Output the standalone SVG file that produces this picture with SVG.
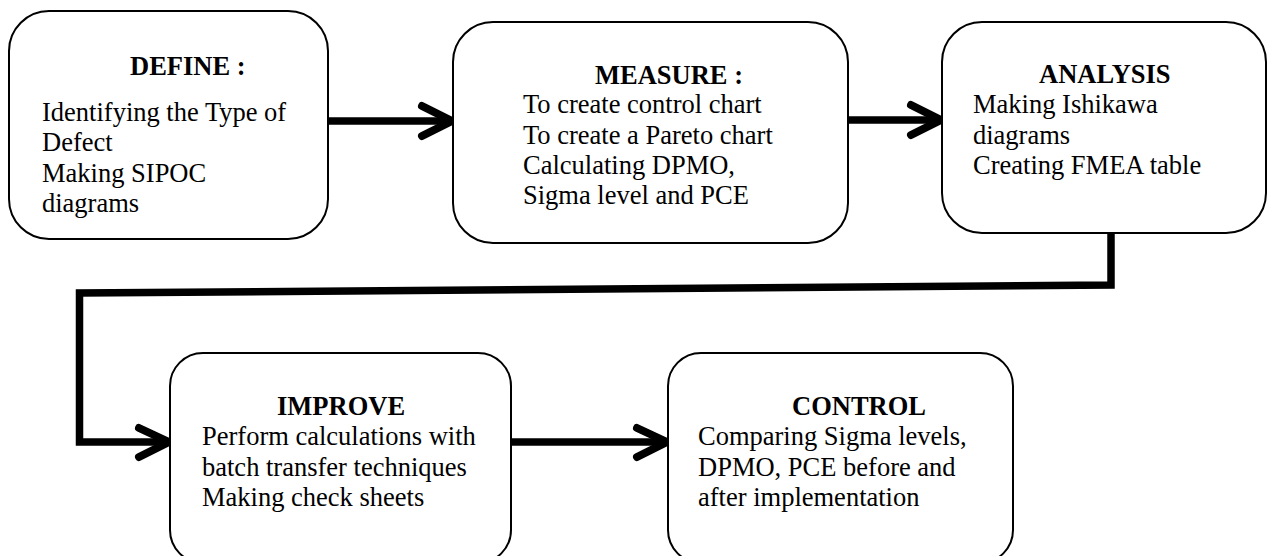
<svg xmlns="http://www.w3.org/2000/svg" width="1267" height="556" viewBox="0 0 1267 556">
  <style>
    .box { fill: #ffffff; stroke: #000000; stroke-width: 2; }
    .title { font-family: "Liberation Serif", "Times New Roman", serif; font-size: 26.5px; font-weight: bold; fill: #000000; }
    .body { font-family: "Liberation Serif", "Times New Roman", serif; font-size: 26.5px; fill: #000000; }
    .wire { fill: none; stroke: #000000; stroke-width: 7.5; stroke-linejoin: miter; }
    .head { fill: none; stroke: #000000; stroke-width: 8; stroke-linecap: round; stroke-linejoin: round; }
  </style>
  <rect width="1267" height="556" fill="#ffffff"/>

  <!-- connectors -->
  <g id="connectors">
    <line class="wire" x1="328" y1="121" x2="450" y2="121"/>
    <polyline class="head" points="422,106 452,121 422,136"/>

    <line class="wire" x1="848" y1="120" x2="939" y2="120"/>
    <polyline class="head" points="911,105 941,120 911,135"/>

    <polyline class="wire" points="1111,233 1111,285 79.5,293 79.5,442 167,442"/>
    <polyline class="head" points="139,428 169,442 139,457"/>

    <line class="wire" x1="511" y1="442" x2="665" y2="442"/>
    <polyline class="head" points="637,428 667,442 637,457"/>
  </g>

  <!-- Define -->
  <g id="define">
    <rect class="box" x="9" y="11" width="319" height="228" rx="40" ry="40"/>
    <text class="title" x="130" y="75">DEFINE :</text>
    <text class="body" x="42" y="121">Identifying the Type of</text>
    <text class="body" x="42" y="151">Defect</text>
    <text class="body" x="42" y="182">Making SIPOC</text>
    <text class="body" x="42" y="212">diagrams</text>
  </g>

  <!-- Measure -->
  <g id="measure">
    <rect class="box" x="453" y="22" width="395" height="221" rx="40" ry="40"/>
    <text class="title" x="595" y="84">MEASURE :</text>
    <text class="body" x="523" y="113">To create control chart</text>
    <text class="body" x="523" y="144">To create a Pareto chart</text>
    <text class="body" x="523" y="174">Calculating DPMO,</text>
    <text class="body" x="523" y="204">Sigma level and PCE</text>
  </g>

  <!-- Analysis -->
  <g id="analysis">
    <rect class="box" x="942" y="22" width="324" height="211" rx="40" ry="40"/>
    <text class="title" x="1039" y="83">ANALYSIS</text>
    <text class="body" x="973" y="113">Making Ishikawa</text>
    <text class="body" x="973" y="144">diagrams</text>
    <text class="body" x="973" y="174">Creating FMEA table</text>
  </g>

  <!-- Improve -->
  <g id="improve">
    <rect class="box" x="170" y="353" width="341" height="210" rx="33" ry="33"/>
    <text class="title" x="277" y="415">IMPROVE</text>
    <text class="body" x="202" y="445">Perform calculations with</text>
    <text class="body" x="202" y="476">batch transfer techniques</text>
    <text class="body" x="202" y="506">Making check sheets</text>
  </g>

  <!-- Control -->
  <g id="control">
    <rect class="box" x="668" y="353" width="345" height="210" rx="33" ry="33"/>
    <text class="title" x="792" y="415">CONTROL</text>
    <text class="body" x="698" y="445">Comparing Sigma levels,</text>
    <text class="body" x="698" y="476">DPMO, PCE before and</text>
    <text class="body" x="698" y="506">after implementation</text>
  </g>
</svg>
